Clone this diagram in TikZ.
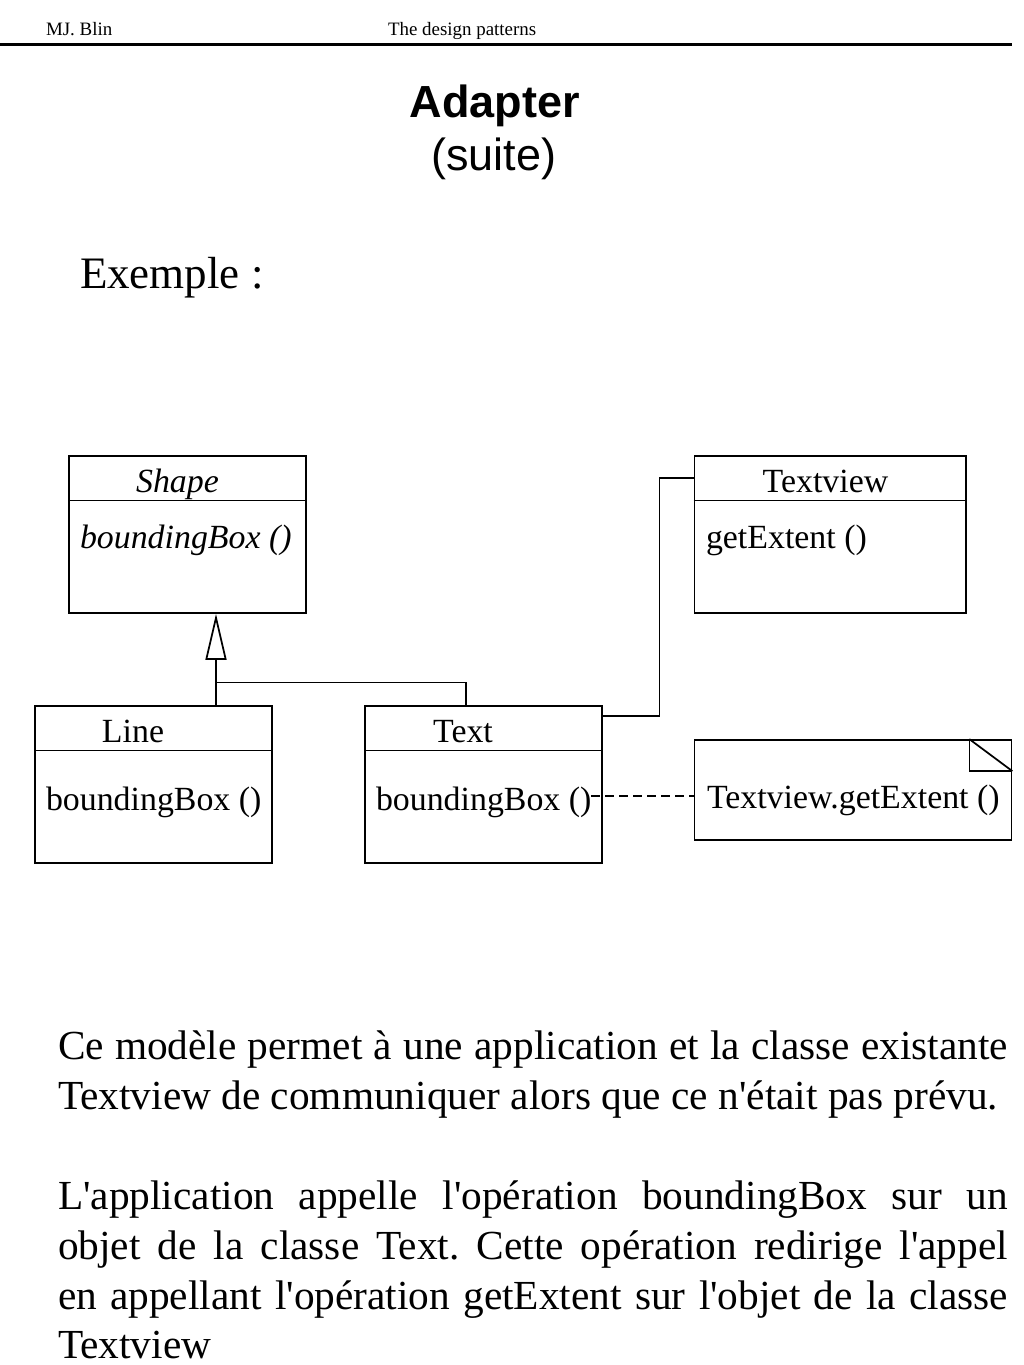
\documentclass[tikz,border=0pt]{standalone}
\usepackage{fontspec}
\setmainfont{Liberation Serif}[Ligatures=TeXOff]
\newfontfamily\sansfam{Liberation Sans}
\usetikzlibrary{arrows.meta,calc}
\newcommand\fsz[1]{\fontsize{#1}{#1}\selectfont}
\frenchspacing
\begin{document}
\begin{tikzpicture}[x=0.75pt,y=-0.75pt,
  txt/.style={inner sep=0pt, outer sep=0pt},
  hdr/.style={txt, anchor=base west, font={\fsz{14.2}}},
  ttl/.style={txt, anchor=base, font={\sansfam\fsz{33.75}}},
  body/.style={txt, anchor=base west, font={\frenchspacing\fsz{31}}},
  dtext/.style={txt, font={\fsz{25.4}}},
  classbox/.style={draw, line width=1.3pt, minimum width=177.75pt, minimum height=117.75pt, inner sep=0pt},
  conn/.style={line width=1.3pt},
  dashconn/.style={line width=1.1pt, dash pattern=on 6.75pt off 3.75pt}
]
\useasboundingbox (0,0) rectangle (1024,1365);
\fill[white] (0,0) rectangle (1024,1365);

% header
\node[hdr] (author) at (46,35) {MJ. Blin};
\node[hdr] (course) at (388,35) {The design patterns};
\coordinate (rl) at (0,44.5);
\coordinate (rr) at (1012,44.5);
\draw[line width=1.9pt] (rl) -- (rr);

% title
\node[ttl, font={\sansfam\bfseries\fsz{33.75}}] (title) at (495,117) {Adapter};
\node[ttl] (subtitle) at (494,170) {(suite)};

\node[txt, anchor=base west, font={\fsz{33.75}}] (ex) at (80,288) {Exemple :};

% class boxes
\node[classbox] (shape) at (187.5,534.5) {};
\node[classbox, minimum width=203.6pt] (tv) at (830.25,534.5) {};
\node[classbox] (line) at (153.5,784.5) {};
\node[classbox] (text) at (483.5,784.5) {};
\node[draw, line width=1.3pt, minimum width=237.75pt, minimum height=75pt, inner sep=0pt] (note) at (853,790) {};

% dividers
\draw[conn] (shape.west |- 0,500.5) -- (shape.east |- 0,500.5);
\draw[conn] (tv.west |- 0,500.5) -- (tv.east |- 0,500.5);
\draw[conn] (line.west |- 0,750.5) -- (line.east |- 0,750.5);
\draw[conn] (text.west |- 0,750.5) -- (text.east |- 0,750.5);

% note corner
\draw[conn] ($(note.north east)+(-43,0)$) -- ($(note.north east)+(-43,32)$) -- ($(note.north east)+(0,32)$);
\draw[conn] ($(note.north east)+(-43,0)$) -- ($(note.north east)+(0,32)$);

% texts in boxes
\node[dtext, anchor=base, font={\itshape\fsz{25.4}}] (shapename) at (177.5,492) {Shape};
\node[dtext, anchor=base west, font={\itshape\fsz{25.4}}] (shapeop) at (80,548) {boundingBox ()};
\node[dtext, anchor=base] (tvname) at (825.5,492) {Textview};
\node[dtext, anchor=base west] (tvop) at (706,548) {getExtent ()};
\node[dtext, anchor=base] (linename) at (133,742) {Line};
\node[dtext, anchor=base west] (lineop) at (46,810) {boundingBox ()};
\node[dtext, anchor=base] (textname) at (463,742) {Text};
\node[dtext, anchor=base west] (textop) at (376,810) {boundingBox ()};
\node[dtext, anchor=base west] (notetext) at (707,808) {Textview.getExtent ()};

% inheritance
\coordinate (ja) at (216,682.5);
\coordinate (jb) at (466,682.5);
\draw[conn] (line.north -| ja) -- (ja) -- (jb) -- (jb |- text.north);
\draw[conn, -{Triangle[open, length=34.5pt, width=15.75pt, fill=white]}] (ja) -- (ja |- shape.south);

% association
\coordinate (a1) at (659.5,716);
\coordinate (a2) at (659.5,478);
\draw[conn] (a1 -| text.east) -- (a1) -- (a2) -- (a2 -| tv.west);

% dashed link to note
\coordinate (dy) at (650,796);
\draw[dashconn] (textop.east |- dy) -- (note.west |- dy);

% body text
\node[body] (p1) at (58,1059) {\makebox[712.5pt][s]{Ce modèle permet à une application et la classe existante}};
\node[body] (p2) at (58,1109) {Textview de communiquer alors que ce n'était pas prévu.};
\node[body] (p3) at (58,1209) {\makebox[712.5pt][s]{L'application appelle l'opération boundingBox sur un}};
\node[body] (p4) at (58,1259) {\makebox[712.5pt][s]{objet de la classe Text. Cette opération redirige l'appel}};
\node[body] (p5) at (58,1309) {\makebox[712.5pt][s]{en appellant l'opération getExtent sur l'objet de la classe}};
\node[body] (p6) at (58,1358) {Textview};
\end{tikzpicture}
\end{document}
